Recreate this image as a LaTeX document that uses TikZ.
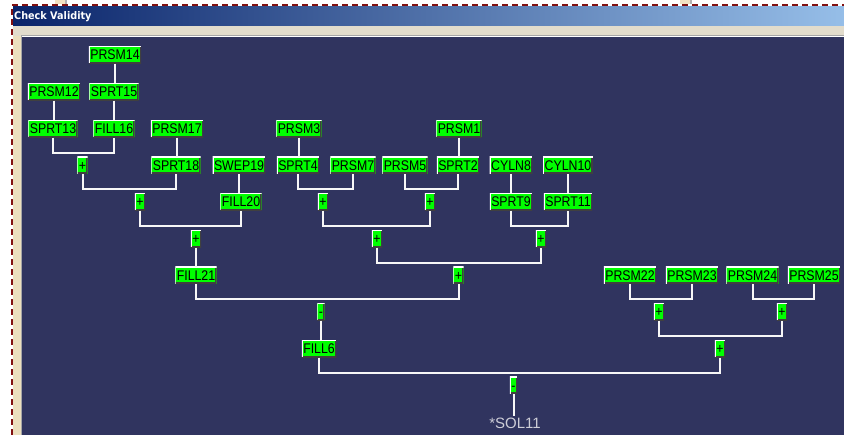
\documentclass[tikz,border=0pt]{standalone}
\usepackage{fontspec}
\newfontfamily\nodefont[FakeStretch=0.88]{Liberation Sans}
\newfontfamily\titlefont[FakeStretch=0.92]{DejaVu Sans}
\newfontfamily\solfont{Liberation Sans}
\definecolor{panel}{RGB}{48,52,95}
\definecolor{ngreen}{RGB}{0,255,0}
\definecolor{titleL}{RGB}{10,36,106}
\definecolor{titleR}{RGB}{150,190,232}
\definecolor{beigeA}{RGB}{226,220,204}
\definecolor{beigeB}{RGB}{236,223,190}
\definecolor{dashcol}{RGB}{130,16,16}
\definecolor{tanbit}{RGB}{242,226,194}
\definecolor{soltext}{RGB}{205,205,215}
\tikzset{
  btn/.style={fill=ngreen, text=black, font=\nodefont\fontsize{14}{14}\selectfont,
    inner xsep=1.5pt, inner ysep=0pt, minimum height=17pt, text height=10pt, text depth=0pt,
    path picture={
      \draw[black!75, line width=3pt] (path picture bounding box.south west) -| (path picture bounding box.north east);
      \draw[white, line width=2pt] (path picture bounding box.south west) |- (path picture bounding box.north east);
    }},
  conn/.style={draw=white!94!gray, line width=2pt},
  soltxt/.style={text=soltext, font=\solfont\fontsize{15}{15}\selectfont, inner sep=1pt}
}
\newcommand\joinpair[3]{%
  \coordinate (jy) at ([yshift=4pt]#3.north);
  \draw[conn] (#1.south) -- (#1.south |- jy) -| (#2.south);}
\newcommand\linkto[2]{\draw[conn] (#1.south) -- (#1.south |- #2.north);}
\begin{document}
\begin{tikzpicture}[x=1pt,y=-1pt]
\useasboundingbox (0,0) rectangle (844,435);
\fill[white] (0,0) rectangle (844,435);
% window frame
\fill[tanbit] (55,0) rectangle (66,4.5);
\fill[gray!60] (65,0) rectangle (66.5,4.5);
\fill[tanbit] (680,0) rectangle (691,4.5);
\fill[gray!60] (690,0) rectangle (691.5,4.5);
\shade[left color=titleL, right color=titleR] (13,7) rectangle (844,26);
\node[anchor=west, text=white, font=\titlefont\bfseries\fontsize{10.5}{10.5}\selectfont, inner sep=0pt] (title) at (14,17) {Check Validity};
\fill[beigeA] (13,26) rectangle (844,36);
\fill[beigeB] (13,36) rectangle (21,435);
\draw[gray!70, line width=1pt] (21.5,435) -- (21.5,35.5) -- (844,35.5);
\fill[panel] (22,37) rectangle (844,435);
\draw[dashcol, line width=2pt, dash pattern=on 6pt off 4pt] (11.5,435) -- (11.5,5.5) -- (844,5.5);

% nodes
\node[btn] (p14) at (115,55) {PRSM14};
\node[btn] (p12) at (54,92) {PRSM12};
\node[btn] (s15) at (114,92) {SPRT15};
\node[btn] (s13) at (53,129) {SPRT13};
\node[btn] (f16) at (114,129) {FILL16};
\node[btn] (p17) at (177,129) {PRSM17};
\node[btn] (p3) at (299,129) {PRSM3};
\node[btn] (p1) at (459,129) {PRSM1};
\node[btn] (pa) at (82.5,165.5) {+};
\node[btn] (s18) at (176,165.5) {SPRT18};
\node[btn] (w19) at (239,165.5) {SWEP19};
\node[btn] (s4) at (298,165.5) {SPRT4};
\node[btn] (p7) at (353,165.5) {PRSM7};
\node[btn] (p5) at (405,165.5) {PRSM5};
\node[btn] (s2) at (458,165.5) {SPRT2};
\node[btn] (c8) at (511,165.5) {CYLN8};
\node[btn] (c10) at (568,165.5) {CYLN10};
\node[btn] (pb) at (140,202) {+};
\node[btn] (f20) at (241,202) {FILL20};
\node[btn] (pc) at (323,202) {+};
\node[btn] (pd) at (430,202) {+};
\node[btn] (s9) at (511,202) {SPRT9};
\node[btn] (s11) at (568,202) {SPRT11};
\node[btn] (pm) at (196,239) {+};
\node[btn] (pe) at (377,239) {+};
\node[btn] (pf) at (541,239) {+};
\node[btn] (f21) at (196,275.5) {FILL21};
\node[btn] (pg) at (458.5,275.5) {+};
\node[btn] (p22) at (630,275.5) {PRSM22};
\node[btn] (p23) at (692,275.5) {PRSM23};
\node[btn] (p24) at (752.5,275.5) {PRSM24};
\node[btn] (p25) at (814,275.5) {PRSM25};
\node[btn] (mh) at (321,312) {-};
\node[btn] (pj) at (659,312) {+};
\node[btn] (pk) at (782,312) {+};
\node[btn] (f6) at (319,349) {FILL6};
\node[btn] (pi) at (720,349) {+};
\node[btn] (ml) at (513.5,385.5) {-};
\node[soltxt] (sol) at (515,423) {*SOL11};

% single links
\linkto{p14}{s15}
\linkto{p12}{s13}
\linkto{s15}{f16}
\linkto{p17}{s18}
\linkto{p3}{s4}
\linkto{p1}{s2}
\linkto{w19}{f20}
\linkto{c8}{s9}
\linkto{c10}{s11}
\linkto{pm}{f21}
\linkto{mh}{f6}
\linkto{ml}{sol}
% joins
\joinpair{s13}{f16}{pa}
\joinpair{pa}{s18}{pb}
\joinpair{s4}{p7}{pc}
\joinpair{p5}{s2}{pd}
\joinpair{pb}{f20}{pm}
\joinpair{pc}{pd}{pe}
\joinpair{s9}{s11}{pf}
\joinpair{pe}{pf}{pg}
\joinpair{f21}{pg}{mh}
\joinpair{p22}{p23}{pj}
\joinpair{p24}{p25}{pk}
\joinpair{pj}{pk}{pi}
\joinpair{f6}{pi}{ml}
\end{tikzpicture}
\end{document}
